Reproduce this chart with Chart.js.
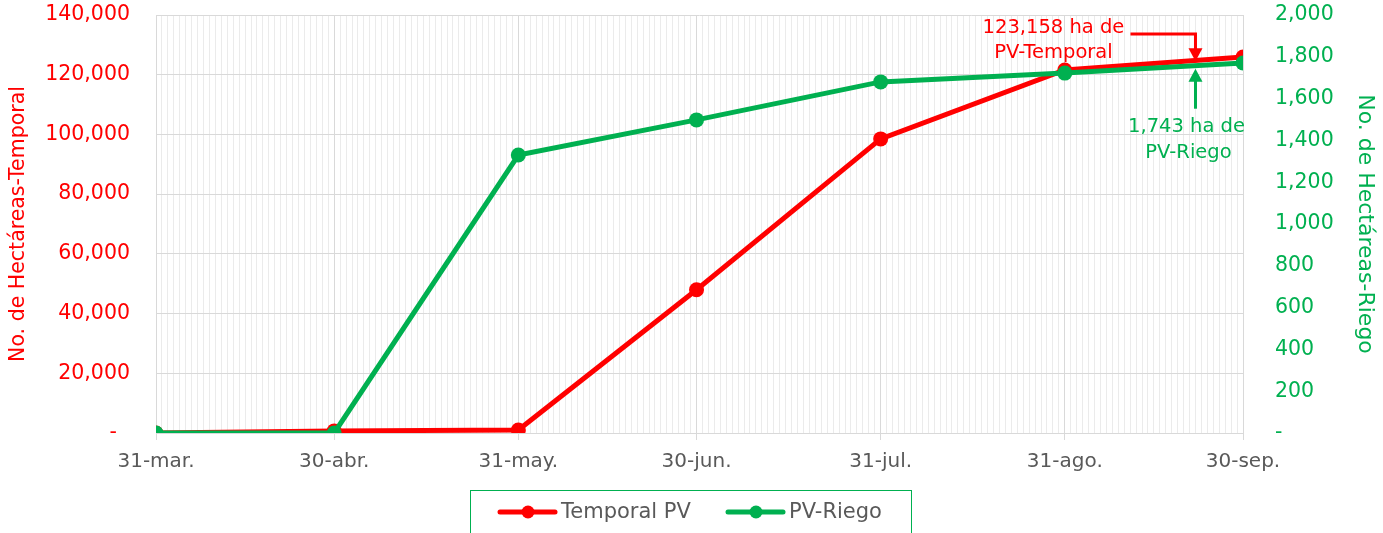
<!DOCTYPE html>
<html>
<head>
<meta charset="utf-8">
<script src="https://cdn.jsdelivr.net/npm/chart.js@4.4.1/dist/chart.umd.min.js"></script>
<style>
  html, body { margin: 0; padding: 0; background: #fff; }
  #wrap { width: 1383px; height: 533px; }
</style>
</head>
<body>
<div id="wrap"><canvas id="c" width="1383" height="533"></canvas></div>
<script>
// fechas de corte (dia desde 31-mar)
const dates = ['2024-03-31', '2024-04-30', '2024-05-31', '2024-06-30', '2024-07-31', '2024-08-31', '2024-09-30'];
const dateLabels = ['31-mar.', '30-abr.', '31-may.', '30-jun.', '31-jul.', '31-ago.', '30-sep.'];
const temporal = [0, 700, 1000, 48000, 98500, 121600, 125900];
const riego = [0, 0, 1330, 1498, 1680, 1722, 1770];

const annotDate = '2024-09-22';
const annotTemporal = 123158;
const annotRiego = 1743;
const temporalText = ['123,158 ha de', 'PV-Temporal'];
const riegoText = ['1,743 ha de', 'PV-Riego'];

const RED = '#FF0000';
const GREEN = '#00B050';
const GRAY = '#595959';
const FONT = '"DejaVu Sans"';

const t0 = Date.parse(dates[0]);
const dayOf = d => Math.round((Date.parse(d) - t0) / 86400000);
const days = dates.map(dayOf);
const lastDay = days[days.length - 1];
const labelByDay = {};
days.forEach((d, i) => { labelByDay[d] = dateLabels[i]; });

const fmt = v => v === 0 ? null : v.toLocaleString('en-US');

const annotPlugin = {
  id: 'annot',
  afterDatasetsDraw(chart) {
    const ctx = chart.ctx;
    const x = chart.scales.x.getPixelForValue(dayOf(annotDate));
    const yR = chart.scales.y.getPixelForValue(annotTemporal);
    const yG = chart.scales.y1.getPixelForValue(annotRiego);
    const top = chart.chartArea.top;
    ctx.save();
    ctx.lineWidth = 3;
    // flecha roja
    ctx.strokeStyle = RED; ctx.fillStyle = RED;
    const hy = top + 19;
    ctx.beginPath();
    ctx.moveTo(x - 65, hy); ctx.lineTo(x, hy); ctx.lineTo(x, yR - 16);
    ctx.stroke();
    ctx.beginPath();
    ctx.moveTo(x - 7, yR - 17); ctx.lineTo(x + 7, yR - 17); ctx.lineTo(x, yR - 4); ctx.closePath();
    ctx.fill();
    // flecha verde
    ctx.strokeStyle = GREEN; ctx.fillStyle = GREEN;
    ctx.beginPath();
    ctx.moveTo(x, yG + 40); ctx.lineTo(x, yG + 12);
    ctx.stroke();
    ctx.beginPath();
    ctx.moveTo(x - 7, yG + 13); ctx.lineTo(x + 7, yG + 13); ctx.lineTo(x, yG); ctx.closePath();
    ctx.fill();
    // textos
    ctx.font = '19.5px ' + FONT;
    ctx.textAlign = 'center';
    ctx.textBaseline = 'middle';
    ctx.fillStyle = RED;
    ctx.fillText(temporalText[0], x - 142, top + 13);
    ctx.fillText(temporalText[1], x - 142, top + 38);
    ctx.fillStyle = GREEN;
    ctx.fillText(riegoText[0], x - 9, yG + 58);
    ctx.fillText(riegoText[1], x - 7, yG + 84);
    ctx.restore();
  }
};

const legendPlugin = {
  id: 'boxLegend',
  afterDraw(chart) {
    const ctx = chart.ctx;
    const bx = 470, by = 490, bw = 442, bh = 43;
    ctx.save();
    ctx.strokeStyle = GREEN;
    ctx.lineWidth = 1;
    ctx.strokeRect(bx + 0.5, by + 0.5, bw - 1, bh);
    const items = [
      { label: chart.data.datasets[0].label, color: RED, x: bx + 30 },
      { label: chart.data.datasets[1].label, color: GREEN, x: bx + 258 }
    ];
    const cy = by + 22;
    ctx.font = '21px ' + FONT;
    ctx.textBaseline = 'middle';
    ctx.textAlign = 'left';
    items.forEach(it => {
      ctx.strokeStyle = it.color; ctx.fillStyle = it.color;
      ctx.lineWidth = 5; ctx.lineCap = 'round';
      ctx.beginPath(); ctx.moveTo(it.x, cy); ctx.lineTo(it.x + 55, cy); ctx.stroke();
      ctx.beginPath(); ctx.arc(it.x + 28, cy, 6.5, 0, Math.PI * 2); ctx.fill();
      ctx.fillStyle = GRAY;
      ctx.fillText(it.label, it.x + 61, cy + 1);
    });
    ctx.restore();
  }
};

const noVPad = scale => { scale.paddingTop = 0; scale.paddingBottom = 0; };

new Chart(document.getElementById('c'), {
  type: 'line',
  data: {
    datasets: [
      {
        label: 'Temporal PV',
        data: days.map((d, i) => ({ x: d, y: temporal[i] })),
        yAxisID: 'y',
        borderColor: RED,
        backgroundColor: RED,
        borderWidth: 5,
        pointRadius: 7.5,
        pointBorderWidth: 0,
        order: 1
      },
      {
        label: 'PV-Riego',
        data: days.map((d, i) => ({ x: d, y: riego[i] })),
        yAxisID: 'y1',
        borderColor: GREEN,
        backgroundColor: GREEN,
        borderWidth: 5,
        pointRadius: 7.5,
        pointBorderWidth: 0,
        order: 0
      }
    ]
  },
  options: {
    responsive: false,
    animation: false,
    layout: { padding: { top: 15, bottom: 50, left: 0, right: 0 } },
    plugins: { legend: { display: false }, tooltip: { enabled: false } },
    scales: {
      x: {
        type: 'linear',
        min: 0,
        max: lastDay,
        afterBuildTicks(scale) {
          const t = [];
          for (let d = 0; d <= lastDay; d++) t.push({ value: d });
          scale.ticks = t;
        },
        afterFit(scale) { scale.height = 50; },
        grid: {
          color: c => labelByDay[c.tick.value] !== undefined ? '#D9D9D9' : '#EBEBEB',
          tickColor: c => labelByDay[c.tick.value] !== undefined ? '#D9D9D9' : 'rgba(0,0,0,0)',
          lineWidth: 1,
          tickLength: 7
        },
        border: { color: '#D9D9D9' },
        ticks: {
          autoSkip: false,
          maxRotation: 0,
          padding: 10,
          color: GRAY,
          font: { family: FONT, size: 20 },
          callback: v => labelByDay[v] !== undefined ? labelByDay[v] : ''
        }
      },
      y: {
        position: 'left',
        min: 0,
        max: 140000,
        afterFit(scale) { scale.width = 156; noVPad(scale); },
        ticks: {
          stepSize: 20000,
          padding: 26,
          color: RED,
          font: { family: FONT, size: 20.5 },
          callback: v => fmt(v) || '-  '
        },
        grid: { color: '#D9D9D9', drawTicks: false },
        border: { display: false },
        title: {
          display: true,
          text: 'No. de Hectáreas-Temporal',
          color: RED,
          font: { family: FONT, size: 20.5 },
          padding: { top: 6, bottom: 0 }
        }
      },
      y1: {
        position: 'right',
        min: 0,
        max: 2000,
        afterFit(scale) { scale.width = 140; noVPad(scale); },
        ticks: {
          stepSize: 200,
          padding: 32,
          color: GREEN,
          font: { family: FONT, size: 20.5 },
          callback: v => fmt(v) || '-'
        },
        grid: { drawOnChartArea: false, drawTicks: false },
        border: { display: false },
        title: {
          display: true,
          text: 'No. de Hectáreas-Riego',
          color: GREEN,
          font: { family: FONT, size: 22 },
          padding: { top: 5, bottom: 0 }
        }
      }
    }
  },
  plugins: [annotPlugin, legendPlugin]
});
</script>
</body>
</html>
